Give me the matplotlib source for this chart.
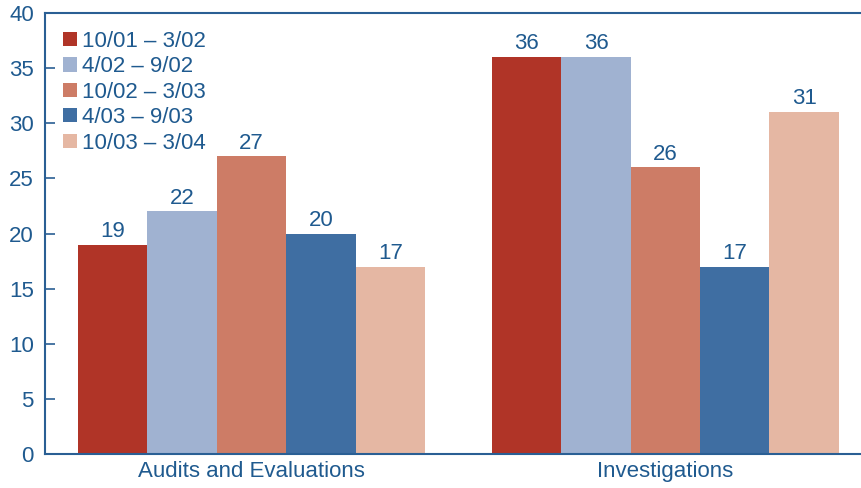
import matplotlib
matplotlib.use("Agg")
import matplotlib.pyplot as plt
import numpy as np

categories = ["Audits and Evaluations", "Investigations"]
periods = ["10/01 \u2013 3/02", "4/02 \u2013 9/02", "10/02 \u2013 3/03", "4/03 \u2013 9/03", "10/03 \u2013 3/04"]
values = [
    [19, 36],
    [22, 36],
    [27, 26],
    [20, 17],
    [17, 31],
]
colors = ["#B03427", "#A0B2D1", "#CD7C66", "#3F6EA2", "#E5B7A3"]
yticks = [0, 5, 10, 15, 20, 25, 30, 35, 40]

text_color = "#1F5A8F"
spine_color = "#2A5F94"
fs = 16

plt.rcParams["font.family"] = ["Liberation Sans", "DejaVu Sans"]

fig = plt.figure(figsize=(8.62, 4.88), dpi=100)
ax = fig.add_axes([45 / 862, 34 / 488, 1 - 45 / 862, (454 - 13) / 488])

width = 0.1676
x = np.arange(len(categories))
for i, (period, vals, c) in enumerate(zip(periods, values, colors)):
    pos = x + (i - 2) * width
    bars = ax.bar(pos, vals, width=width, color=c, label=period, linewidth=0)
    for b, v in zip(bars, vals):
        ax.text(b.get_x() + b.get_width() / 2, v + 0.25, str(v),
                ha="center", va="bottom", fontsize=fs, color=text_color)

ax.set_xlim(-0.499, 1.475)
ax.set_ylim(0, 40)
ax.set_yticks(yticks)
ax.set_yticklabels([str(t) for t in yticks], fontsize=fs, color=text_color)
ax.set_xticks(x)
ax.set_xticklabels(categories, fontsize=fs, color=text_color)
ax.tick_params(axis="y", direction="in", length=7, width=1.2, color=spine_color, pad=8)
ax.tick_params(axis="x", length=0, pad=5)

for s in ["left", "bottom", "top"]:
    ax.spines[s].set_color(spine_color)
    ax.spines[s].set_linewidth(1.5)
ax.spines["right"].set_visible(False)

leg = ax.legend(loc="upper left", bbox_to_anchor=(0.0, 1.0), frameon=False,
                fontsize=fs, handlelength=0.62, handleheight=0.62,
                handletextpad=0.25, labelspacing=0.2, borderaxespad=0.4)
for t in leg.get_texts():
    t.set_color(text_color)

fig.savefig("out.png", dpi=100)
